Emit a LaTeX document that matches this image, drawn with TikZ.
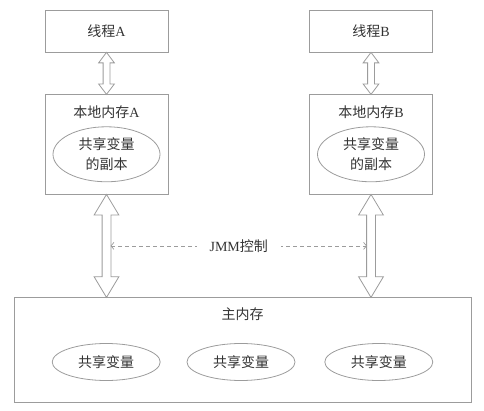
\documentclass[tikz,border=0pt]{standalone}
\usepackage{fontspec}
\setmainfont{Liberation Serif}
\newfontfamily\cjk{Noto Sans CJK SC}
\usetikzlibrary{positioning,arrows.meta,shapes,calc}
\definecolor{linegray}{HTML}{9C9C9C}
\definecolor{textgray}{HTML}{333333}

\begin{document}
\begin{tikzpicture}[
    x=1pt, y=1pt,
    node distance=42pt,
    every node/.style={font=\fontsize{14}{20}\selectfont, text=textgray, align=center},
    box/.style={draw=linegray, line width=0.8pt, minimum width=123pt},
    var/.style={ellipse, draw=linegray, line width=0.8pt, inner sep=0pt},
    updown/.style={double arrow, draw=linegray, fill=white, line width=0.8pt,
      shape border rotate=90, inner sep=3pt,
      double arrow head extend=4.5pt, double arrow tip angle=74},
    bigupdown/.style={updown, inner sep=4pt, double arrow head extend=8pt,
      double arrow tip angle=62},
  ]
    \useasboundingbox (0,0) rectangle (484,410);

    % threads and their local memories
    \node[box, minimum height=42pt] (threadA) at (106.5,379) {{\cjk 线程}A};
    \node[box, minimum height=42pt] (threadB) at (371,379) {{\cjk 线程}B};
    \node[box, minimum height=100pt, below=of threadA] (localA) {};
    \node[box, minimum height=100pt, below=of threadB] (localB) {};
    \node[anchor=north] (localAlabel) at ([yshift=-8pt]localA.north) {{\cjk 本地内存}A};
    \node[anchor=north] (localBlabel) at ([yshift=-8pt]localB.north) {{\cjk 本地内存}B};
    \node[var, minimum width=107pt, minimum height=55pt, below=4pt of localAlabel] (copyA) {\cjk 共享变量\\\cjk 的副本};
    \node[var, minimum width=107pt, minimum height=55pt, below=4pt of localBlabel] (copyB) {\cjk 共享变量\\\cjk 的副本};

    % main memory
    \node[box, minimum width=457pt, minimum height=105pt] (main) at (242.5,60.5) {};
    \node[anchor=north] (mainlabel) at ([yshift=-8pt]main.north) {\cjk 主内存};
    \node[var, minimum width=108pt, minimum height=37pt] (varB) at (241,48) {\cjk 共享变量};
    \node[var, minimum width=108pt, minimum height=37pt, left=26pt of varB] (varA) {\cjk 共享变量};
    \node[var, minimum width=108pt, minimum height=37pt, right=29pt of varB] (varC) {\cjk 共享变量};

    % arrows
    \node[updown, minimum height=42pt] (upA) at ($(threadA.south)!0.5!(localA.north)$) {};
    \node[updown, minimum height=42pt] (upB) at ($(threadB.south)!0.5!(localB.north)$) {};
    \node[bigupdown, minimum height=103pt] (lowA) at ($(localA.south)!0.5!(localA.south |- main.north)$) {};
    \node[bigupdown, minimum height=103pt] (lowB) at ($(localB.south)!0.5!(localB.south |- main.north)$) {};

    \draw[linegray, line width=0.7pt, dash pattern=on 4pt off 3pt,
      {Straight Barb[length=3pt,width=7pt]}-{Straight Barb[length=3pt,width=7pt]}]
      ([xshift=4pt]lowA.center) -- node[fill=white, inner xsep=13pt] (jmm) {JMM{\cjk 控制}} ([xshift=-4pt]lowB.center);
\end{tikzpicture}
\end{document}
